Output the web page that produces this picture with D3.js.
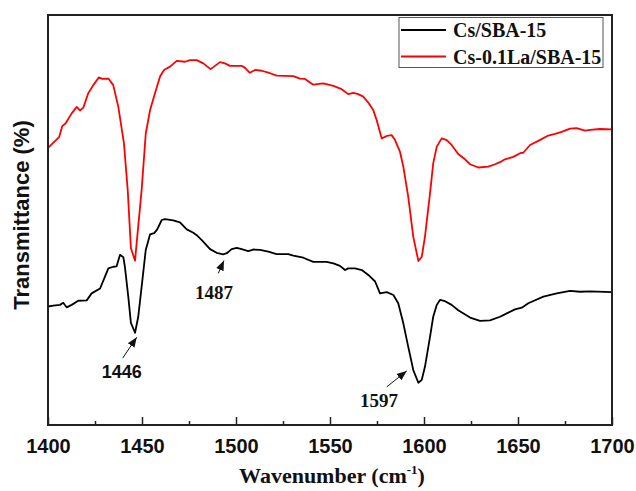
<!DOCTYPE html>
<html>
<head>
<meta charset="utf-8">
<script src="https://cdn.jsdelivr.net/npm/d3@7"></script>
<style>
  html, body { margin: 0; padding: 0; background: #fff; }
  svg { display: block; }
</style>
</head>
<body>
<svg id="chart" width="636" height="491"></svg>
<script>
// ---- Data (wavenumber in cm-1, transmittance in arbitrary units) ----
const seriesNames = ["Cs/SBA-15", "Cs-0.1La/SBA-15"];
const seriesColors = ["#000000", "#ff0000"];

const wnCs = [1400,1402.8,1406.4,1408.1,1409.9,1412.6,1416.1,1420.6,1423.2,1427.7,1430.3,1432.1,1434.7,1436.5,1438.3,1440.1,1440.9,1442.7,1444.1,1446.3,1448.0,1449.8,1452.0,1454.3,1456.5,1458.1,1460.5,1462.2,1466.6,1470.2,1473.8,1477.3,1479.1,1481.8,1486.2,1489.7,1493.2,1495.1,1497.7,1500.4,1503.0,1506.5,1509.2,1512.8,1517.2,1521.6,1527.8,1530.5,1535.8,1541.1,1548.2,1551.8,1555.3,1558.0,1559.7,1563.3,1566.9,1570.4,1574.0,1576.6,1580.2,1583.7,1586.3,1589.0,1591.6,1594.3,1597.0,1598.8,1600.5,1603.2,1604.9,1606.8,1608.5,1611.2,1614.7,1618.2,1624.5,1629.8,1635.1,1640.4,1642.2,1648.4,1652.0,1655.5,1663.5,1670.6,1677.7,1683.0,1688.3,1700];
const tCs = [28.9,29.1,29.3,29.8,28.7,29.3,30.3,30.4,32.1,33.3,36.2,38.2,38.6,38.7,41.5,40.9,38.6,31.3,24.9,22.5,26.4,33.7,42.7,46.5,46.8,47.7,50.0,50.2,49.9,49.4,47.7,46.9,46.3,45.1,42.9,42.0,41.6,41.9,42.9,43.2,42.9,42.4,42.8,42.7,42.3,41.7,41.7,41.3,40.8,39.8,39.8,39.4,38.8,37.8,38.2,38.2,37.8,36.6,35.0,32.1,32.4,31.7,29.7,24.8,19.1,13.4,10.3,11.0,14.2,21.5,26.4,29.3,30.5,30.2,29.3,28.0,26.2,25.4,25.5,26.4,26.8,28.2,28.6,29.7,31.3,32.1,32.7,32.5,32.6,32.4];

const wnCsLa = [1400,1405.9,1407.6,1409.4,1412.6,1415.3,1417.0,1418.8,1421.4,1424.1,1427.1,1428.9,1432.1,1434.7,1437.4,1440.4,1442.4,1444.1,1446.3,1447.3,1449.8,1452.0,1454.3,1456.9,1459.6,1461.7,1464.9,1468.5,1472.9,1475.5,1479.1,1482.6,1486.5,1491.5,1494.1,1496.8,1503.0,1504.8,1507.4,1510.1,1513.7,1518.1,1521.6,1530.5,1534.0,1536.7,1541.1,1546.4,1551.8,1556.2,1559.7,1562.4,1565.0,1567.7,1570.4,1573.0,1574.8,1577.5,1580.2,1582.8,1584.6,1587.2,1589.0,1591.6,1594.3,1597.0,1598.8,1600.5,1603.2,1604.9,1606.8,1609.4,1612.1,1614.7,1618.2,1621.8,1624.5,1628.9,1634.2,1637.8,1640.4,1643.1,1647.5,1651.1,1652.8,1656.4,1660.8,1666.1,1669.7,1673.2,1677.7,1681.2,1685.6,1688.3,1693.6,1700];
const tCsLa = [67.6,70.2,72.9,73.6,76.0,77.6,76.7,77.4,80.9,82.9,84.8,84.4,84.5,82.9,77.6,68.7,57.3,43.1,40.1,45.1,57.3,71.1,76.8,80.9,85.0,86.6,87.4,88.8,88.6,89.0,89.0,88.2,86.8,88.5,88.2,87.6,87.6,87.1,85.9,86.6,86.4,85.8,85.2,85.1,84.5,84.4,83.0,83.3,82.7,81.9,80.7,81.0,80.7,80.1,78.6,76.8,74.4,69.9,70.5,70.7,69.5,66.7,63.0,55.7,45.9,40.0,41.0,45.9,56.5,63.8,67.9,69.9,69.5,68.3,66.1,64.8,63.6,62.8,63.0,63.6,64.1,64.8,65.4,66.3,66.4,68.3,69.3,70.6,71.0,71.5,72.3,72.4,71.8,72.0,72.2,72.1];

const xTickValues = [1400,1450,1500,1550,1600,1650,1700];
const xMinorTicks = [1425,1475,1525,1575,1625,1675];

// peak annotations: label, label anchor (wn, t), arrow tail and tip (wn, t)
const peakLabels = ["1446", "1487", "1597"];
const peakLabelWn = [1439.2, 1488.3, 1576.1];
const peakLabelT = [11.5, 30.7, 4.4];
const peakTailWn = [1439.7, 1490.6, 1580.2];
const peakTailT = [16.3, 37.0, 9.3];
const peakTipWn = [1447.2, 1493.6, 1590.8];
const peakTipT = [21.4, 40.1, 13.2];
const peakFonts = ["'Liberation Sans', Arial, sans-serif", "'Liberation Serif', 'Times New Roman', serif", "'Liberation Serif', 'Times New Roman', serif"];

// ---- Layout ----
const W = 636, H = 491;
const margin = {left: 48, top: 15, right: 24, bottom: 66};
const iw = W - margin.left - margin.right;
const ih = H - margin.top - margin.bottom;

const svg = d3.select("#chart");
const g = svg.append("g").attr("transform", `translate(${margin.left},${margin.top})`);

const x = d3.scaleLinear().domain([1400, 1700]).range([0, iw]);
const y = d3.scaleLinear().domain([0, 100]).range([ih, 0]);

const serif = "'Liberation Serif', 'Times New Roman', serif";
const sans = "'Liberation Sans', Arial, sans-serif";

// curves
const line = d3.line().x(d => x(d[0])).y(d => y(d[1]));
const seriesData = [
  d3.zip(wnCs, tCs),
  d3.zip(wnCsLa, tCsLa)
];
seriesData.forEach((data, i) => {
  g.append("path")
    .datum(data)
    .attr("fill", "none")
    .attr("stroke", seriesColors[i])
    .attr("stroke-width", 1.8)
    .attr("stroke-linejoin", "round")
    .attr("d", line);
});

// bottom axis with inward ticks
const xAxis = d3.axisBottom(x).tickValues(xTickValues).tickSize(-8).tickPadding(14).tickFormat(d3.format("d"));
const ax = g.append("g").attr("transform", `translate(0,${ih})`).call(xAxis);
ax.select(".domain").remove();
ax.selectAll(".tick line").attr("stroke", "#222").attr("stroke-width", 1.5);
ax.selectAll(".tick text")
  .attr("font-family", sans).attr("font-weight", "bold").attr("font-size", 20).attr("fill", "#111");

const minorAxis = d3.axisBottom(x).tickValues(xMinorTicks).tickSize(-4).tickFormat("");
const mx = g.append("g").attr("transform", `translate(0,${ih})`).call(minorAxis);
mx.select(".domain").remove();
mx.selectAll(".tick line").attr("stroke", "#222").attr("stroke-width", 1.5);

// frame
g.append("rect")
  .attr("x", 0).attr("y", 0).attr("width", iw).attr("height", ih)
  .attr("fill", "none").attr("stroke", "#222").attr("stroke-width", 2);

// axis titles
const xt = svg.append("text")
  .attr("x", margin.left + iw / 2 + 2)
  .attr("y", 483)
  .attr("text-anchor", "middle")
  .attr("font-family", serif).attr("font-weight", "bold").attr("font-size", 22).attr("fill", "#111");
xt.append("tspan").text("Wavenumber (cm");
xt.append("tspan").attr("font-size", 13).attr("dy", -9).text("-1");
xt.append("tspan").attr("dy", 9).text(")");

svg.append("text")
  .attr("transform", `translate(29,${215}) rotate(-90)`)
  .attr("text-anchor", "middle")
  .attr("font-family", sans).attr("font-weight", "bold").attr("font-size", 22).attr("fill", "#111")
  .text("Transmittance (%)");

// legend
const lg = svg.append("g");
lg.append("rect")
  .attr("x", 399).attr("y", 17.5).attr("width", 204).attr("height", 50)
  .attr("fill", "#fff").attr("stroke", "#555").attr("stroke-width", 1);
seriesNames.forEach((name, i) => {
  const yy = 30 + i * 26.5;
  lg.append("line").attr("x1", 401).attr("x2", 446).attr("y1", yy).attr("y2", yy)
    .attr("stroke", seriesColors[i]).attr("stroke-width", 1.8);
  lg.append("text").attr("x", 453).attr("y", yy + 7)
    .attr("font-family", serif).attr("font-weight", "bold").attr("font-size", 20).attr("fill", "#111")
    .text(name);
});

// annotations
svg.append("defs").append("marker")
  .attr("id", "arrow").attr("viewBox", "0 0 10 10").attr("refX", 10).attr("refY", 5)
  .attr("markerWidth", 10).attr("markerHeight", 10).attr("markerUnits", "userSpaceOnUse")
  .attr("orient", "auto")
  .append("path").attr("d", "M0,1 L10,5 L0,9 Z").attr("fill", "#111");

peakLabels.forEach((lab, i) => {
  g.append("line")
    .attr("x1", x(peakTailWn[i])).attr("y1", y(peakTailT[i]))
    .attr("x2", x(peakTipWn[i])).attr("y2", y(peakTipT[i]))
    .attr("stroke", "#111").attr("stroke-width", 1)
    .attr("marker-end", "url(#arrow)");
  g.append("text")
    .attr("x", x(peakLabelWn[i])).attr("y", y(peakLabelT[i]))
    .attr("text-anchor", "middle")
    .attr("font-family", peakFonts[i]).attr("font-weight", "bold")
    .attr("font-size", i === 0 ? 18 : 19).attr("fill", "#111")
    .text(lab);
});
</script>
</body>
</html>
